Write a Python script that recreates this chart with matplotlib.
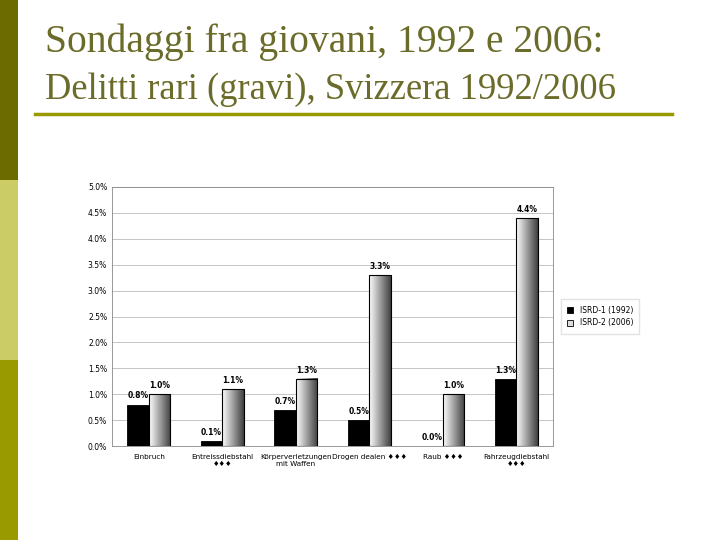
import matplotlib
matplotlib.use("Agg")
import matplotlib.pyplot as plt
import numpy as np
from matplotlib.patches import Rectangle

categories = ["Einbruch", "Entreissdiebstahl\n♦♦♦", "Körperverletzungen\nmit Waffen",
              "Drogen dealen ♦♦♦", "Raub ♦♦♦", "Fahrzeugdiebstahl\n♦♦♦"]
isrd1 = [0.8, 0.1, 0.7, 0.5, 0.0, 1.3]
isrd2 = [1.0, 1.1, 1.3, 3.3, 1.0, 4.4]
yticks = [0, 0.5, 1.0, 1.5, 2.0, 2.5, 3.0, 3.5, 4.0, 4.5, 5.0]

fig = plt.figure(figsize=(7.2, 5.4), dpi=100)
fig.patch.set_facecolor("white")

for y0, h, c in [(2/3, 1/3, "#6b6b00"), (1/3, 1/3, "#cccc66"), (0, 1/3, "#999900")]:
    fig.add_artist(Rectangle((0, y0), 18/720, h, transform=fig.transFigure, color=c, lw=0))
fig.text(45/720, 1-42/540, "Sondaggi fra giovani, 1992 e 2006:", family="Liberation Serif",
         fontsize=28.5, color="#6b6b2a", va="center")
fig.text(45/720, 1-90/540, "Delitti rari (gravi), Svizzera 1992/2006", family="Liberation Serif",
         fontsize=26.3, color="#6b6b2a", va="center")
fig.add_artist(plt.Line2D([35/720, 672/720], [1-114/540]*2, transform=fig.transFigure,
                          color="#999900", lw=2.5))

ax = fig.add_axes([112/720, 94/540, 441/720, 259/540])
x = np.arange(len(categories))
w = 0.29
ax.bar(x - w/2, isrd1, w, color="black", edgecolor="black", lw=0.6, label="ISRD-1 (1992)", zorder=3)
grad = np.linspace(1, 0.25, 64).reshape(1, -1)
bars2 = ax.bar(x + w/2, isrd2, w, color="#dddddd", edgecolor="black", lw=0.6, label="ISRD-2 (2006)", zorder=3)
for b in bars2:
    bx, by, bw, bh = b.get_x(), b.get_y(), b.get_width(), b.get_height()
    ax.imshow(grad, cmap="gray", vmin=0, vmax=1, aspect="auto",
              extent=(bx, bx + bw, by, by + bh), zorder=3.5)
    ax.add_patch(Rectangle((bx, by), bw, bh, fill=False, ec="black", lw=0.8, zorder=4))
for xi, v in zip(x, isrd1):
    ax.text(xi - w/2, v + 0.08, f"{v:.1f}%", ha="center", va="bottom", fontsize=5.5, fontweight="bold")
for xi, v in zip(x, isrd2):
    ax.text(xi + w/2, v + 0.08, f"{v:.1f}%", ha="center", va="bottom", fontsize=5.5, fontweight="bold")
ax.set_xlim(-0.5, len(categories) - 0.5)
ax.set_ylim(0, 5.0)
ax.set_yticks(yticks)
ax.set_yticklabels([f"{t:.1f}%" for t in yticks], fontsize=5.5)
ax.set_xticks(x)
ax.set_xticklabels(categories, fontsize=5.2)
ax.tick_params(axis="x", length=0, pad=6)
ax.tick_params(axis="y", length=0)
ax.yaxis.grid(True, color="#bbbbbb", lw=0.6, zorder=0)
ax.set_axisbelow(True)
for s in ax.spines.values():
    s.set_color("#888888")
    s.set_linewidth(0.6)
ax.legend(loc="center left", bbox_to_anchor=(1.01, 0.5), fontsize=5.5, frameon=True,
          fancybox=False, edgecolor="#dddddd", handlelength=0.8, handleheight=0.8, borderpad=0.8)
fig.savefig("out.png", dpi=100)
